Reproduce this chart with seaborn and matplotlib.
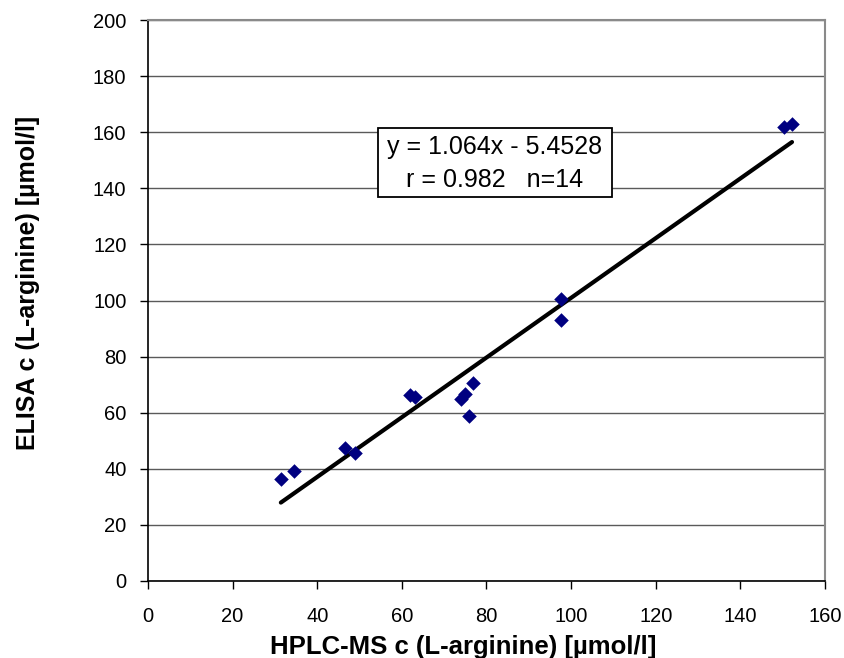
import matplotlib
matplotlib.use("Agg")
import matplotlib.pyplot as plt
from matplotlib.patches import Rectangle
import seaborn as sns
import numpy as np
import pandas as pd

hplc = [31.4, 34.5, 46.6, 48.9, 61.9, 63.1, 74.0, 74.9, 75.9, 76.8, 97.5, 97.5, 150.2, 152.2]
elisa = [36.4, 39.2, 47.4, 45.6, 66.3, 65.6, 64.9, 66.7, 58.8, 70.6, 100.4, 93.0, 161.7, 162.9]
slope = 1.064
intercept = -5.4528
x_ticks = [0, 20, 40, 60, 80, 100, 120, 140, 160]
y_ticks = [0, 20, 40, 60, 80, 100, 120, 140, 160, 180, 200]
eq_line1 = "y = 1.064x - 5.4528"
eq_line2 = "r = 0.982   n=14"

sns.set_style("white", {"text.color": "black", "axes.labelcolor": "black",
                        "xtick.color": "black", "ytick.color": "black"})
plt.rcParams['font.family'] = ['Liberation Sans', 'DejaVu Sans']

df = pd.DataFrame({"hplc": hplc, "elisa": elisa})

fig = plt.figure(figsize=(8.45, 6.58), dpi=100)
ax = fig.add_axes([148/845, 77/658, (825-148)/845, (581-20)/658])

ax.set_xlim(0, 160)
ax.set_ylim(0, 200)
ax.set_xticks(x_ticks)
ax.set_yticks(y_ticks)
ax.yaxis.grid(True, color="#5a5a5a", linewidth=1.0)
ax.xaxis.grid(False)
ax.set_axisbelow(True)

xl = np.array([min(hplc), max(hplc)])
ax.plot(xl, slope * xl + intercept, color="black", linewidth=3.0, zorder=2)

sns.scatterplot(data=df, x="hplc", y="elisa", marker="D", s=55, color="#000080",
                edgecolor="#000080", linewidth=0, ax=ax, zorder=3)

for side in ["left", "bottom"]:
    ax.spines[side].set_color("black")
    ax.spines[side].set_linewidth(1.2)
for side in ["top", "right"]:
    ax.spines[side].set_color("#8a8a8a")
    ax.spines[side].set_linewidth(1.5)

ax.tick_params(axis="both", which="major", direction="out", length=6, width=1.0,
               color="black", labelcolor="black", labelsize=14.5, bottom=True, left=True)
ax.tick_params(axis="x", pad=13)
ax.tick_params(axis="y", pad=9.5)

ax.set_xlabel("HPLC-MS c (L-arginine) [µmol/l]", fontsize=18.5, fontweight="bold",
              labelpad=6, color="black")
ax.set_ylabel("ELISA c (L-arginine) [µmol/l]", fontsize=18, fontweight="bold",
              labelpad=38, color="black")
ax.xaxis.label.set_x(0.465)
ax.yaxis.label.set_y(0.531)

ax.add_patch(Rectangle((54.4, 136.9), 55.3, 24.6, facecolor="white", edgecolor="black",
                       linewidth=1.3, zorder=4))
ax.text(82.0, 154.7, eq_line1, ha="center", va="center", fontsize=18, color="black", zorder=5)
ax.text(82.0, 143.0, eq_line2, ha="center", va="center", fontsize=18, color="black", zorder=5)

fig.savefig("out.png", dpi=100)
